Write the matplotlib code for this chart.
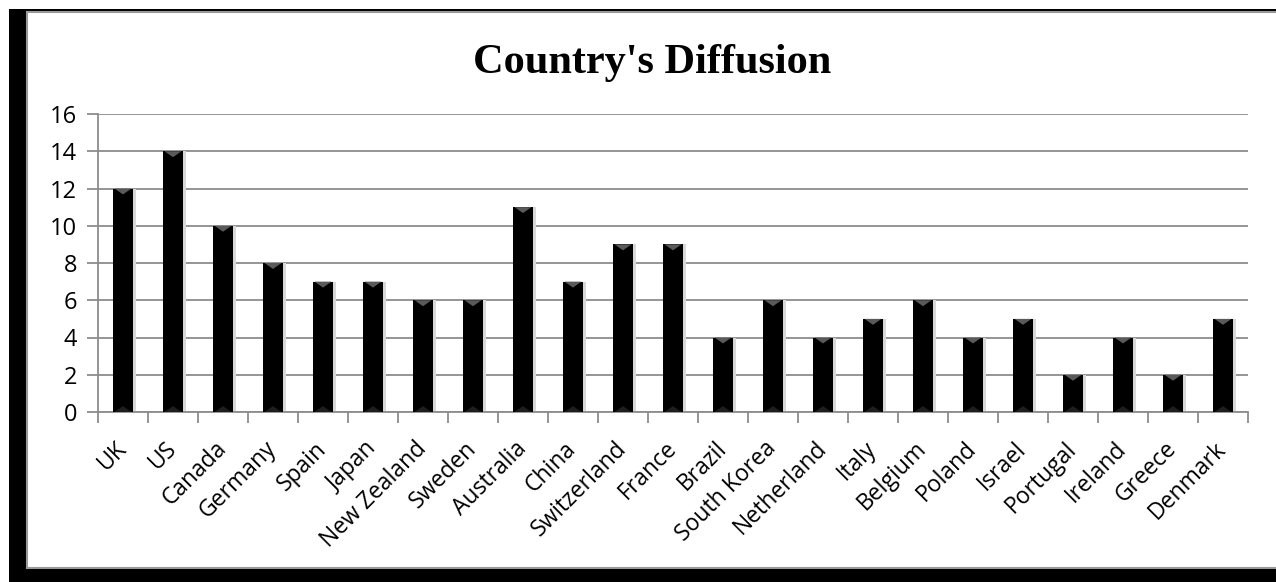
import matplotlib.pyplot as plt
from matplotlib.patches import Rectangle, Polygon
import numpy as np

countries = ['UK', 'US', 'Canada', 'Germany', 'Spain', 'Japan', 'New Zealand',
             'Sweden', 'Australia', 'China', 'Switzerland', 'France', 'Brazil',
             'South Korea', 'Netherland', 'Italy', 'Belgium', 'Poland', 'Israel',
             'Portugal', 'Ireland', 'Greece', 'Denmark']
counts = [12, 14, 10, 8, 7, 7, 6, 6, 11, 7, 9, 9, 4, 6, 4, 5, 6, 4, 5, 2, 4, 2, 5]
y_ticks = [0, 2, 4, 6, 8, 10, 12, 14, 16]

W, H = 1276, 582
fig = plt.figure(figsize=(W / 100, H / 100), dpi=100)

# black frame with a thin grey inner edge
fig.patches.append(Rectangle((9 / W, -0.1), 1.2, 1.1 - 9 / H, transform=fig.transFigure,
                             facecolor='black', edgecolor='none', zorder=-2))
fig.patches.append(Rectangle((27 / W, 1 - 568 / H), 1.2, (568 - 12) / H,
                             transform=fig.transFigure, facecolor='white',
                             edgecolor='#9a9a9a', linewidth=1.5, zorder=-1))

ax = fig.add_axes([98 / W, 1 - 412 / H, (1248 - 98) / W, (412 - 114) / H])
ax.set_zorder(2)
ax.set_facecolor('none')

x = np.arange(len(countries))
width = 0.4
ax.bar(x + 0.06, counts, width=width, color='#d8d8d8', zorder=2)  # soft shadow
ax.bar(x, counts, width=width, color='black', zorder=3)

# bevel highlight at the top of each bar
tri_h = 0.32
for xi, v in zip(x, counts):
    ax.add_patch(Polygon([(xi - width / 2 + 0.03, v), (xi + width / 2 - 0.03, v), (xi, v - tri_h)],
                         closed=True, facecolor='#5a5a5a', edgecolor='none', zorder=4))
    ax.add_patch(Polygon([(xi - width / 2 + 0.03, 0), (xi + width / 2 - 0.03, 0), (xi, tri_h)],
                         closed=True, facecolor='#1e1e1e', edgecolor='none', zorder=4))

ax.set_xlim(-0.5, len(countries) - 0.5)
ax.set_ylim(0, 16)
ax.set_yticks(y_ticks)
ax.yaxis.grid(True, color='#8c8c8c', linewidth=1.3, zorder=1)
ax.set_axisbelow(True)

for s in ['top', 'right']:
    ax.spines[s].set_visible(False)
for s in ['left', 'bottom']:
    ax.spines[s].set_color('#8c8c8c')
    ax.spines[s].set_linewidth(1.3)

ax.set_xticks(np.arange(len(countries) + 1) - 0.5)
ax.set_xticklabels([])
ax.set_xticks(x, minor=True)
ax.set_xticklabels(countries, minor=True, rotation=45, ha='right', va='center',
                   rotation_mode='anchor', fontsize=16.5, family='Open Sans')
ax.tick_params(axis='x', which='major', length=8, width=1.3, color='#8c8c8c')
ax.tick_params(axis='x', which='minor', length=0, pad=24)
ax.tick_params(axis='y', length=8, width=1.3, color='#8c8c8c', pad=7)
for lab in ax.get_yticklabels():
    lab.set_fontsize(17)
    lab.set_family('Open Sans')

fig.text(652 / W, 1 - 73 / H, "Country's Diffusion", ha='center', va='baseline',
         fontsize=30.5, fontweight='bold', family='Liberation Serif')

fig.savefig('out.png', dpi=100)
